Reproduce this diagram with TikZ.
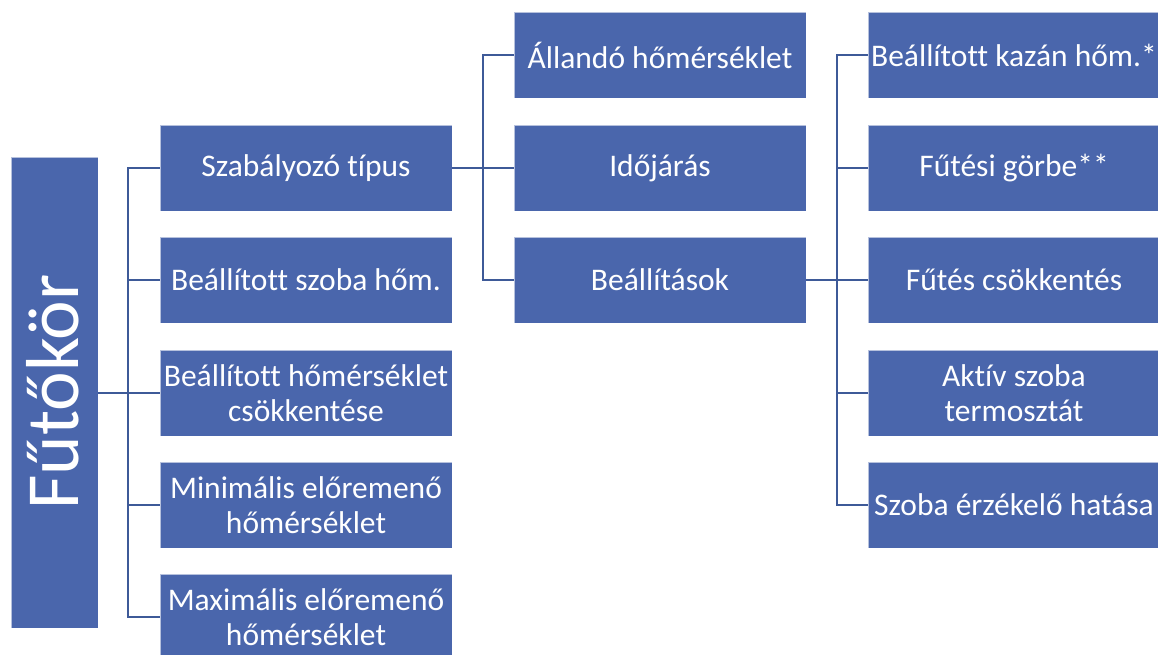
\documentclass[tikz,border=0pt]{standalone}
\usepackage{fontspec}
\setmainfont{Carlito}[Ligatures=NoCommon]
\definecolor{boxfill}{HTML}{4A66AC}
\definecolor{linecol}{HTML}{3E5A98}
\begin{document}
\begin{tikzpicture}[x=1pt,y=-1pt,
  box/.style={rectangle,fill=boxfill,draw=white,draw opacity=0.6,line width=0.8pt,
    minimum width=292pt,minimum height=86pt,inner sep=0pt,align=center,
    text=white,font=\fontsize{31.5}{35}\selectfont},
  conn/.style={draw=linecol,line width=2pt}]
\useasboundingbox (0,0) rectangle (1158,654);
\clip (0,0) rectangle (1158,654);
% root
\node[rectangle,fill=boxfill,draw=white,draw opacity=0.6,line width=0.8pt,
  minimum width=87pt,minimum height=471pt,inner sep=0pt] (root) at (54.5,392.5) {};
\node[rotate=90,text=white,font=\fontsize{75}{80}\selectfont,inner sep=0pt] (roottext) at (53,392) {Fűtőkör};
% column 1
\node[box] (c1a) at (306,168) {Szabályozó típus};
\node[box] (c1b) at (306,280) {Beállított szoba hőm.};
\node[box] (c1c) at (306,393) {Beállított hőmérséklet\\csökkentése};
\node[box] (c1d) at (306,505) {Minimális előremenő\\hőmérséklet};
\node[box] (c1e) at (306,617) {Maximális előremenő\\hőmérséklet};
% column 2
\node[box] (c2a) at (660,55) {Állandó hőmérséklet};
\node[box] (c2b) at (660,168) {Időjárás};
\node[box] (c2c) at (660,280) {Beállítások};
% column 3
\node[box] (c3a) at (1014,55) {Beállított kazán hőm.*};
\node[box] (c3b) at (1014,168) {Fűtési görbe**};
\node[box] (c3c) at (1014,280) {Fűtés csökkentés};
\node[box] (c3d) at (1014,393) {Aktív szoba\\termosztát};
\node[box] (c3e) at (1014,505) {Szoba érzékelő hatása};
% connectors
\foreach \c in {c1a,c1b,c1c,c1d,c1e}
  \draw[conn] (\c.west) -- ++(-32,0) |- (root.east);
\foreach \c in {c2a,c2b,c2c}
  \draw[conn] (\c.west) -- ++(-31,0) |- (c1a.east);
\foreach \c in {c3a,c3b,c3c,c3d,c3e}
  \draw[conn] (\c.west) -- ++(-31,0) |- (c2c.east);
\end{tikzpicture}
\end{document}
